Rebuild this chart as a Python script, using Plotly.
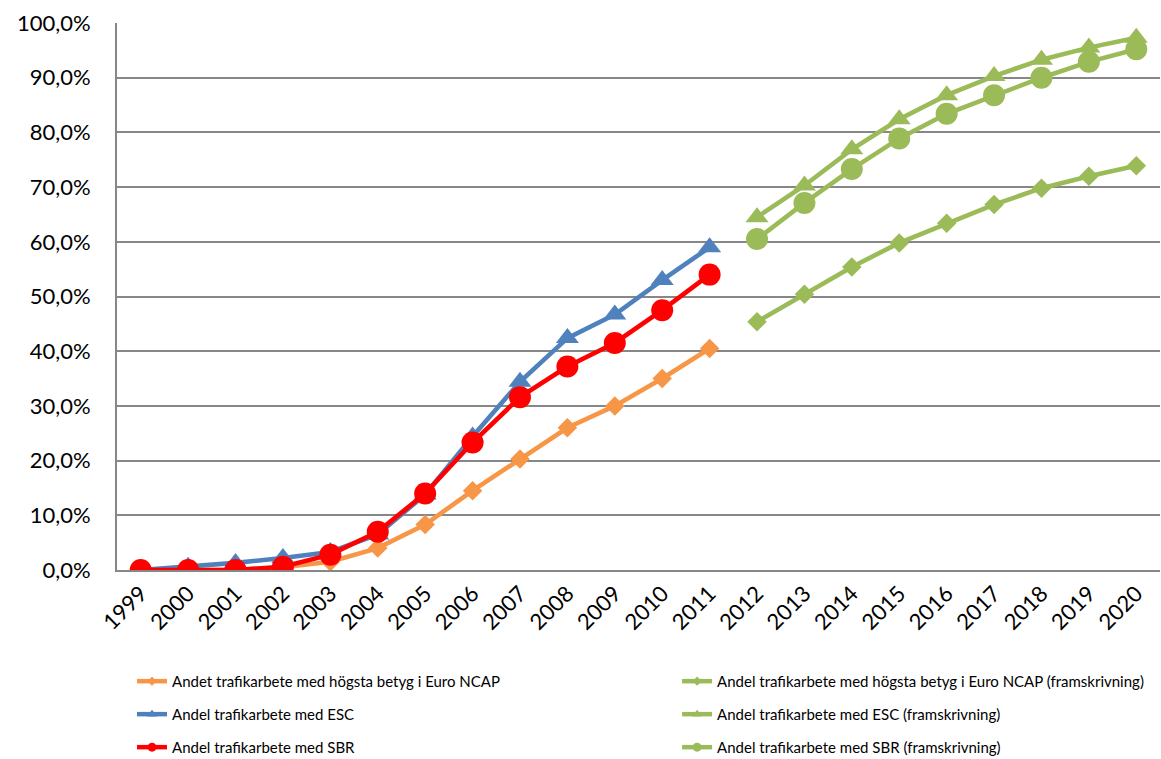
import plotly.graph_objects as go

years = [str(y) for y in range(1999, 2021)]

ncap = [0.0, 0.0, 0.0, 0.5, 1.5, 4.0, 8.3, 14.5, 20.3, 26.0, 30.0, 35.0, 40.5] + [None] * 9
esc = [0.0, 0.6, 1.3, 2.2, 3.3, 6.5, 13.8, 24.4, 34.4, 42.4, 46.7, 53.0, 59.0] + [None] * 9
sbr = [0.0, 0.0, 0.0, 0.6, 2.8, 7.0, 14.0, 23.3, 31.6, 37.2, 41.5, 47.5, 54.0] + [None] * 9

ncap_proj = [None] * 13 + [45.4, 50.4, 55.4, 59.8, 63.4, 66.8, 69.8, 72.0, 73.9]
esc_proj = [None] * 13 + [64.5, 70.3, 76.9, 82.4, 86.8, 90.3, 93.3, 95.5, 97.3]
sbr_proj = [None] * 13 + [60.5, 67.1, 73.3, 78.9, 83.4, 86.8, 90.0, 92.9, 95.2]

names = [
    "Andet trafikarbete med högsta betyg i Euro NCAP",
    "Andel trafikarbete med ESC",
    "Andel trafikarbete med SBR",
    "Andel trafikarbete med högsta betyg i Euro NCAP (framskrivning)",
    "Andel trafikarbete med ESC (framskrivning)",
    "Andel trafikarbete med SBR (framskrivning)",
]

ORANGE = "#F79646"
BLUE = "#4F81BD"
RED = "#FF0000"
GREEN = "#9BBB59"

def pct(v):
    return [None if x is None else x / 100 for x in v]

series = [
    (ncap, names[0], ORANGE, "diamond", 15, 7, "legend", "g1"),
    (esc, names[1], BLUE, "triangle-up", 20, 9, "legend", "g2"),
    (sbr, names[2], RED, "circle", 22, 9, "legend", "g3"),
    (ncap_proj, names[3], GREEN, "diamond", 15, 7, "legend2", "g4"),
    (esc_proj, names[4], GREEN, "triangle-up", 20, 9, "legend2", "g5"),
    (sbr_proj, names[5], GREEN, "circle", 22, 9, "legend2", "g6"),
]

fig = go.Figure()
for vals, name, col, sym, size, lsize, leg, grp in series:
    fig.add_trace(go.Scatter(
        x=years, y=pct(vals), name=name, mode="lines+markers",
        line=dict(color=col, width=4.6),
        marker=dict(color=col, symbol=sym, size=size),
        showlegend=False, connectgaps=False, legendgroup=grp,
    ))
# legend entries (small markers as in the reference legend)
for vals, name, col, sym, size, lsize, leg, grp in series:
    fig.add_trace(go.Scatter(
        x=[years[0]], y=[None], name=name, mode="lines+markers",
        line=dict(color=col, width=4.5),
        marker=dict(color=col, symbol=sym, size=lsize),
        legend=leg, legendgroup=grp,
    ))

FONT = "Lato, 'Open Sans', sans-serif"

fig.update_layout(
    width=1161, height=759,
    margin=dict(l=117, r=1, t=23, b=189, autoexpand=False),
    plot_bgcolor="white", paper_bgcolor="white",
    separators=", ",
    font=dict(family=FONT, color="black"),
    xaxis=dict(
        type="category", range=[-0.5, 21.5], showgrid=False,
        showline=True, linecolor="#878787", linewidth=2,
        tickangle=-45, tickfont=dict(size=22), ticks="", automargin=False,
    ),
    yaxis=dict(
        range=[0, 1.0], dtick=0.1, tickformat=".1%",
        showgrid=True, gridcolor="#878787", gridwidth=1.6,
        showline=True, linecolor="#878787", linewidth=2,
        tickfont=dict(size=22), ticks="", zeroline=False,
        ticklabelstandoff=20, automargin=False,
    ),
    legend=dict(
        x=0.0144, y=-0.1735, xanchor="left", yanchor="top",
        font=dict(size=15), tracegroupgap=10.5, bgcolor="rgba(0,0,0,0)",
    ),
    legend2=dict(
        x=0.537, y=-0.1735, xanchor="left", yanchor="top",
        font=dict(size=15), tracegroupgap=10.5, bgcolor="rgba(0,0,0,0)",
    ),
)

fig.write_html(
    "out.html",
    config={"displayModeBar": False},
    post_script="document.body.style.margin='0px';",
)
